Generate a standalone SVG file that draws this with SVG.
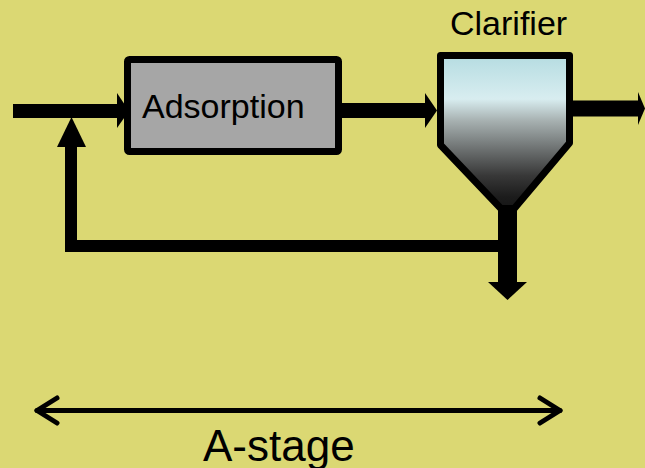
<svg xmlns="http://www.w3.org/2000/svg" width="645" height="468" viewBox="0 0 645 468">
  <style>
    .label { font-family: "Liberation Sans", Arial, sans-serif; fill: #000; }
    .pipe { fill: none; stroke: #000; stroke-linejoin: miter; }
    .head { fill: #000; }
    .unit { stroke: #000; stroke-width: 7; stroke-linejoin: round; }
  </style>
  <defs>
    <linearGradient id="settling" x1="0" y1="55" x2="0" y2="218" gradientUnits="userSpaceOnUse">
      <stop offset="0" stop-color="#B5DCE1"/>
      <stop offset="0.27" stop-color="#D8EDF0"/>
      <stop offset="0.40" stop-color="#A8B2B2"/>
      <stop offset="0.58" stop-color="#6C7070"/>
      <stop offset="0.74" stop-color="#383838"/>
      <stop offset="0.87" stop-color="#1C1C1C"/>
      <stop offset="1" stop-color="#111"/>
    </linearGradient>
  </defs>

  <rect width="645" height="468" fill="#DBD873"/>

  <g id="connectors">
    <!-- influent -->
    <path class="pipe" d="M13 111 H119" stroke-width="14"/>
    <polygon class="head" points="117,93 129,111 117,128"/>
    <!-- adsorption to clarifier -->
    <path class="pipe" d="M338 110.5 H427" stroke-width="15"/>
    <polygon class="head" points="425,93 437,110.5 425,128"/>
    <!-- effluent -->
    <path class="pipe" d="M570 108.5 H639" stroke-width="16"/>
    <polygon class="head" points="638,92 645,108.5 638,125"/>
    <!-- sludge draw-off -->
    <path class="pipe" d="M507.5 205 V284" stroke-width="19"/>
    <polygon class="head" points="488,282 527,282 507.5,300"/>
    <!-- sludge return -->
    <path class="pipe" d="M500 246 H71 V145" stroke-width="12"/>
    <polygon class="head" points="57,147 86,147 71.5,117"/>
    <!-- stage span -->
    <g fill="none" stroke="#000" stroke-width="5" stroke-linecap="round" stroke-linejoin="round">
      <path d="M37 410.5 H560"/>
      <path d="M57 398 L37 410.5 L57 423"/>
      <path d="M540 398 L560 410.5 L540 423"/>
    </g>
  </g>

  <g id="adsorption">
    <rect class="unit" x="127.5" y="59.5" width="211" height="92" rx="2" fill="#A6A6A6"/>
    <text class="label" x="142" y="118" font-size="34">Adsorption</text>
  </g>

  <g id="clarifier">
    <path class="unit" d="M440.5 55.5 H569.5 V143 L508 216 L440.5 145 Z" fill="url(#settling)" stroke-linejoin="round"/>
    <rect x="498" y="205" width="19" height="20" fill="#000"/>
    <text class="label" x="450" y="35" font-size="34">Clarifier</text>
  </g>

  <g id="stage-label">
    <text class="label" x="203" y="461" font-size="44">A-stage</text>
  </g>
</svg>
